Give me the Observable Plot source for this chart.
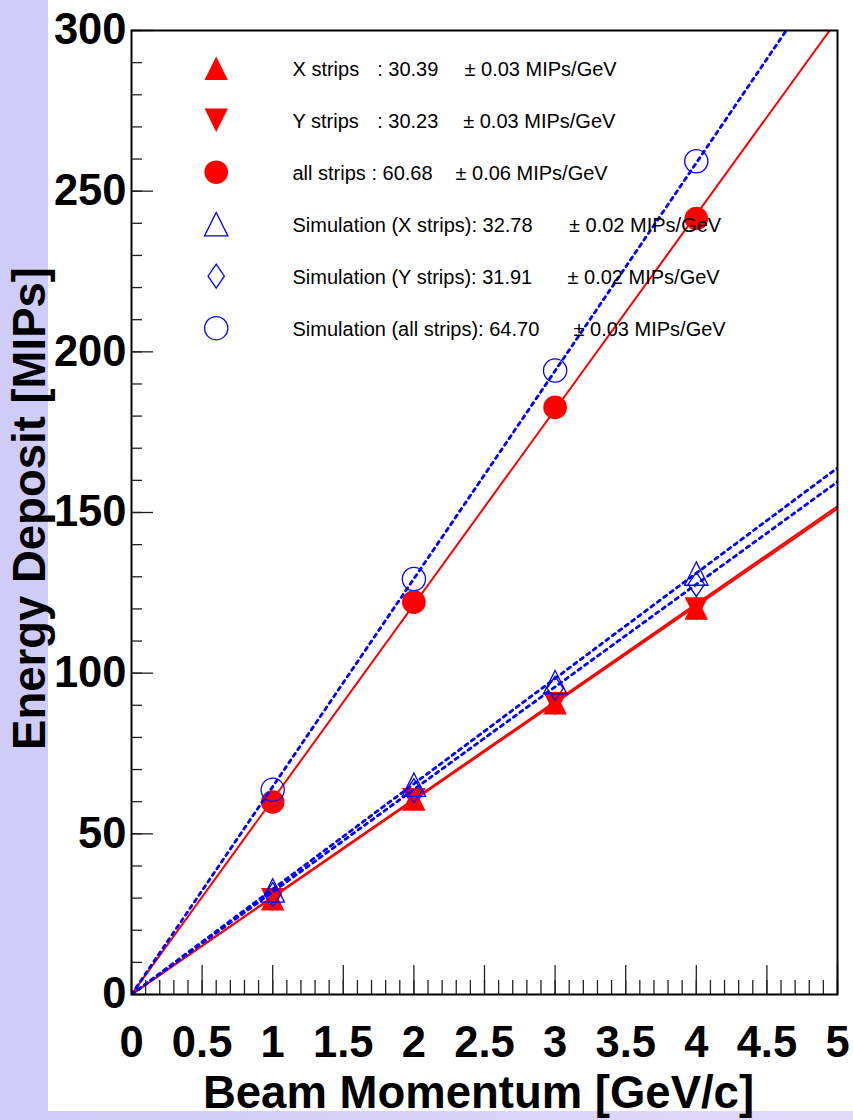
<!DOCTYPE html>
<html><head><meta charset="utf-8">
<script src="https://cdn.jsdelivr.net/npm/d3@7"></script>
<script src="https://cdn.jsdelivr.net/npm/@observablehq/plot@0.6"></script>
<style>
html,body{margin:0;padding:0;}
body{width:853px;height:1120px;background:#d0ccf8;position:relative;overflow:hidden;font-family:"Liberation Sans",Arial,sans-serif;}
#pad{position:absolute;left:48px;top:0;width:805px;height:1111px;background:#fff;}
#bottom{position:absolute;left:0;top:1111px;width:853px;height:9px;background:linear-gradient(90deg,#d0ccf8,#e2daf8);}
#chart{position:absolute;left:0;top:0;}
</style></head>
<body><div id="pad"></div><div id="bottom"></div><div id="chart"></div>
<script>
// ---- data ----
const momentum = [1, 2, 3, 4];                 // beam momentum [GeV/c]
const dataX    = [29.8, 60.8, 90.8, 120.3];    // X strips
const dataY    = [29.5, 60.6, 90.5, 120.0];    // Y strips
const dataAll  = [59.9, 122.1, 182.7, 241.5];  // all strips
const simX     = [32.4, 65.3, 97.2, 131.0];    // simulation X strips
const simY     = [31.1, 63.4, 95.3, 127.6];    // simulation Y strips
const simAll   = [63.7, 129.3, 194.2, 259.3];  // simulation all strips
const slopes   = [30.39, 30.23, 60.68, 32.78, 31.91, 64.70]; // fitted MIPs/GeV
const legendText1 = ["X strips", "Y strips", "all strips : 60.68",
  "Simulation (X strips): 32.78", "Simulation (Y strips): 31.91", "Simulation (all strips): 64.70"];
const legendText2 = [": 30.39", ": 30.23", "", "", "", ""];
const legendErr = ["\u00b1 0.03 MIPs/GeV", "\u00b1 0.03 MIPs/GeV", "\u00b1 0.06 MIPs/GeV",
  "\u00b1 0.02 MIPs/GeV", "\u00b1 0.02 MIPs/GeV", "\u00b1 0.03 MIPs/GeV"];
const xMajorTicks = [0, 0.5, 1, 1.5, 2, 2.5, 3, 3.5, 4, 4.5, 5];
const yMajorTicks = [0, 50, 100, 150, 200, 250, 300];
const xMinorTicks = d3.range(0, 51).map(i => i / 10);
const yMinorTicks = d3.range(0, 31).map(i => i * 10);
const fitRange = [0, 5];

// ---- symbols ----
const rad = size => Math.sqrt(size / Math.PI);
const triUp = {draw(c, s) { const r = rad(s); c.moveTo(0, -r); c.lineTo(r, r); c.lineTo(-r, r); c.closePath(); }};
const triDown = {draw(c, s) { const r = rad(s); c.moveTo(0, r); c.lineTo(r, -r); c.lineTo(-r, -r); c.closePath(); }};
const diamond = {draw(c, s) { const r = rad(s); c.moveTo(0, -r); c.lineTo(0.68 * r, 0); c.lineTo(0, r); c.lineTo(-0.68 * r, 0); c.closePath(); }};

const RED = "#ff0000", BLUE = "#0000ff";
const series = [
  {vals: dataX,   slope: slopes[0], symbol: triUp,   r: 11.7, fill: RED,    stroke: "none", sw: 0,   color: RED,  dash: null},
  {vals: dataY,   slope: slopes[1], symbol: triDown, r: 11.7, fill: RED,    stroke: "none", sw: 0,   color: RED,  dash: null},
  {vals: dataAll, slope: slopes[2], symbol: "circle",r: 11.8, fill: RED,    stroke: "none", sw: 0,   color: RED,  dash: null},
  {vals: simX,    slope: slopes[3], symbol: triUp,   r: 11.7, fill: "none", stroke: BLUE,   sw: 1.3, color: BLUE, dash: "3.5,4.5"},
  {vals: simY,    slope: slopes[4], symbol: diamond, r: 12,   fill: "none", stroke: BLUE,   sw: 1.3, color: BLUE, dash: "3.5,4.5"},
  {vals: simAll,  slope: slopes[5], symbol: "circle",r: 11.6, fill: "none", stroke: BLUE,   sw: 1.3, color: BLUE, dash: "3.5,4.5"}
];

const FONT = "Liberation Sans, Arial, Helvetica, sans-serif";
const marks = [];

// fit lines & points: red first, then blue
for (const group of [[0,1,2],[3,4,5]]) {
  for (const i of group) {
    const s = series[i];
    marks.push(Plot.line(fitRange, {x: d => d, y: d => d * s.slope, stroke: s.color,
      strokeWidth: s.dash ? 2.8 : 2, strokeDasharray: s.dash, clip: true}));
  }
  for (const i of group) {
    const s = series[i];
    marks.push(Plot.dot(momentum, {x: d => d, y: (d, j) => s.vals[j], symbol: s.symbol, r: s.r,
      fill: s.fill, stroke: s.stroke, strokeWidth: s.sw}));
  }
}

// legend
const legRow = 52, errDx = [333, 331.7, 324, 437.5, 436, 442];
series.forEach((s, i) => {
  marks.push(Plot.dot([0], {frameAnchor: "top-left", dx: 84.7, dy: 37.7 + legRow * i,
    symbol: s.symbol, r: s.r, fill: s.fill, stroke: s.stroke, strokeWidth: s.sw}));
  marks.push(Plot.text([legendText1[i]], {text: d => d, frameAnchor: "top-left", dx: 161, dy: 39.5 + 51.9 * i,
    textAnchor: "start", lineAnchor: "middle", fontSize: 20, fontFamily: FONT, fill: "black"}));
  if (legendText2[i]) marks.push(Plot.text([legendText2[i]], {text: d => d, frameAnchor: "top-left", dx: 245.7, dy: 39.5 + 51.9 * i,
    textAnchor: "start", lineAnchor: "middle", fontSize: 20, fontFamily: FONT, fill: "black"}));
  marks.push(Plot.text([legendErr[i]], {text: d => d, frameAnchor: "top-left", dx: errDx[i], dy: 39.5 + 51.9 * i,
    textAnchor: "start", lineAnchor: "middle", fontSize: 20, fontFamily: FONT, fill: "black"}));
});

// axes: inward ticks
marks.push(Plot.axisY(yMinorTicks, {tickSize: 11, dx: 11, fill: "none", stroke: "#222", strokeWidth: 1.3, label: null}));
marks.push(Plot.axisY(yMajorTicks, {tickSize: 22, dx: 22, fill: "none", stroke: "#222", strokeWidth: 1.3, label: null}));
marks.push(Plot.axisX(xMinorTicks, {tickSize: 14, dy: -14, fill: "none", stroke: "#222", strokeWidth: 1.3, label: null}));
marks.push(Plot.axisX(xMajorTicks, {tickSize: 29, dy: -29, fill: "none", stroke: "#222", strokeWidth: 1.3, label: null}));
// tick labels
marks.push(Plot.axisY(yMajorTicks, {tickSize: 0, tickPadding: 5, fontSize: 43.5, fontWeight: "bold", fontFamily: FONT,
  tickFormat: d => String(d), label: null}));
marks.push(Plot.axisX(xMajorTicks, {tickSize: 0, tickPadding: 32, fontSize: 43.5, fontWeight: "bold", fontFamily: FONT,
  tickFormat: d => String(d), label: null}));
// axis titles
marks.push(Plot.text(["Beam Momentum [GeV/c]"], {text: d => d, frameAnchor: "bottom", dx: -6, dy: 99,
  textAnchor: "middle", lineAnchor: "middle", fontSize: 45.5, fontWeight: "bold", fontFamily: FONT, fill: "black"}));
marks.push(Plot.text(["Energy Deposit [MIPs]"], {text: d => d, frameAnchor: "left", dx: -101, dy: -4, rotate: -90,
  textAnchor: "middle", lineAnchor: "middle", fontSize: 45.5, fontWeight: "bold", fontFamily: FONT, fill: "black"}));
marks.push(Plot.frame({stroke: "black", strokeWidth: 2}));

const chart = Plot.plot({
  width: 853, height: 1120,
  marginLeft: 131, marginRight: 16, marginTop: 30, marginBottom: 126,
  x: {domain: [0, 5]},
  y: {domain: [0, 300]},
  style: {background: "transparent", fontFamily: FONT, overflow: "visible", color: "black"},
  marks
});
document.getElementById("chart").appendChild(chart);
</script>
</body></html>
